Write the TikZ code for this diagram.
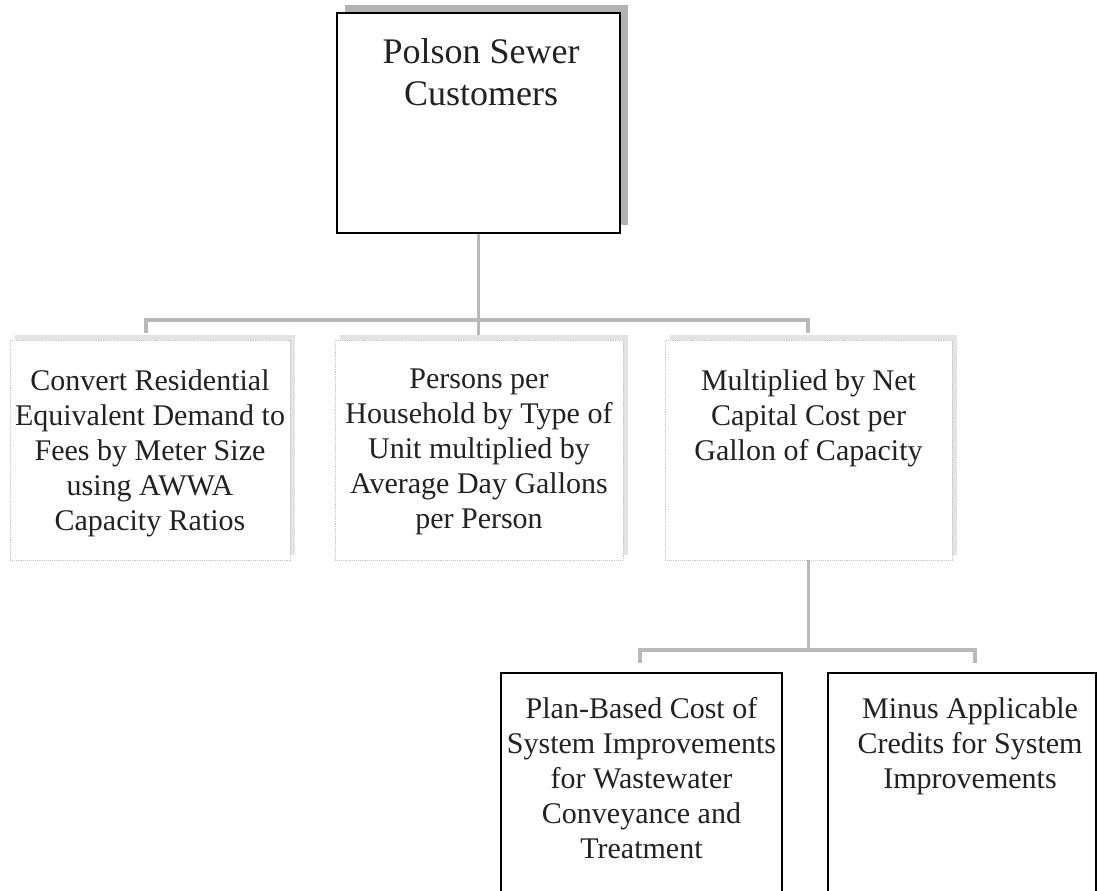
\documentclass[tikz,border=0pt]{standalone}
\usepackage{fontspec}
\setmainfont{Liberation Serif}
\usetikzlibrary{shadows}
\definecolor{ink}{HTML}{222222}
\begin{document}
\begin{tikzpicture}[x=1pt,y=-1pt,
  headbox/.style={draw=black,line width=1.3pt,fill=white,minimum width=283pt,minimum height=220pt,
    inner sep=0pt,general shadow={shadow xshift=8pt,shadow yshift=8pt,fill=gray!60}},
  midbox/.style={draw=gray!45,densely dotted,line width=0.9pt,fill=white,minimum height=220pt,
    inner sep=0pt,general shadow={shadow xshift=5pt,shadow yshift=5pt,fill=gray!22}},
  lowbox/.style={draw=black,line width=1.5pt,minimum height=237pt,inner sep=0pt},
  bigtext/.style={text=ink,align=center,anchor=north,inner sep=0pt,font=\fontsize{36}{42}\selectfont},
  boxtext/.style={text=ink,align=center,anchor=north,inner sep=0pt,font=\fontsize{30}{35}\selectfont},
  conn/.style={draw=gray!55,line width=3.2pt}]
\useasboundingbox[fill=white] (0,0) rectangle (1098,891);

% top box
\node[headbox] (top) at (478.5,123) {};
\node[bigtext] (topt) at (481,38) {Polson Sewer\\Customers};

% middle row
\node[midbox,minimum width=280pt] (m1) at (150,450) {};
\node[midbox,minimum width=288pt] (m2) at (479,450) {};
\node[midbox,minimum width=287pt] (m3) at (808.5,450) {};
\node[boxtext] (m1t) at (150,369) {Convert Residential\\Equivalent Demand to\\Fees by Meter Size\\using AWWA\\Capacity Ratios};
\node[boxtext] (m2t) at (479,369) {Persons per\\Household by Type of\\Unit multiplied by\\Average Day Gallons\\per Person};
\node[boxtext] (m3t) at (808.5,369) {Multiplied by Net\\Capital Cost per\\Gallon of Capacity};

% bottom row (boxes run past the lower page edge)
\node[lowbox,minimum width=281pt] (b1) at (641.5,791.5) {};
\node[lowbox,minimum width=268pt] (b2) at (962,791.5) {};
\node[boxtext] (b1t) at (641.5,697) {Plan-Based Cost of\\System Improvements\\for Wastewater\\Conveyance and\\Treatment};
\node[boxtext] (b2t) at (970,697) {Minus Applicable\\Credits for System\\Improvements};

% connectors
\coordinate (busL) at (146,320);
\coordinate (busR) at (808,320);
\draw[conn] (top.south) -- (top.south |- busL) -- ++(0,15);
\draw[conn] ([yshift=-13pt]busL) -- (busL) -- (busR) -- ++(0,13);

\coordinate (busB1) at (640,650);
\coordinate (busB2) at (975,650);
\draw[conn] (m3.south) -- (m3.south |- busB1);
\draw[conn] ([yshift=-13pt]busB1) -- (busB1) -- (busB2) -- ++(0,13);
\end{tikzpicture}
\end{document}
